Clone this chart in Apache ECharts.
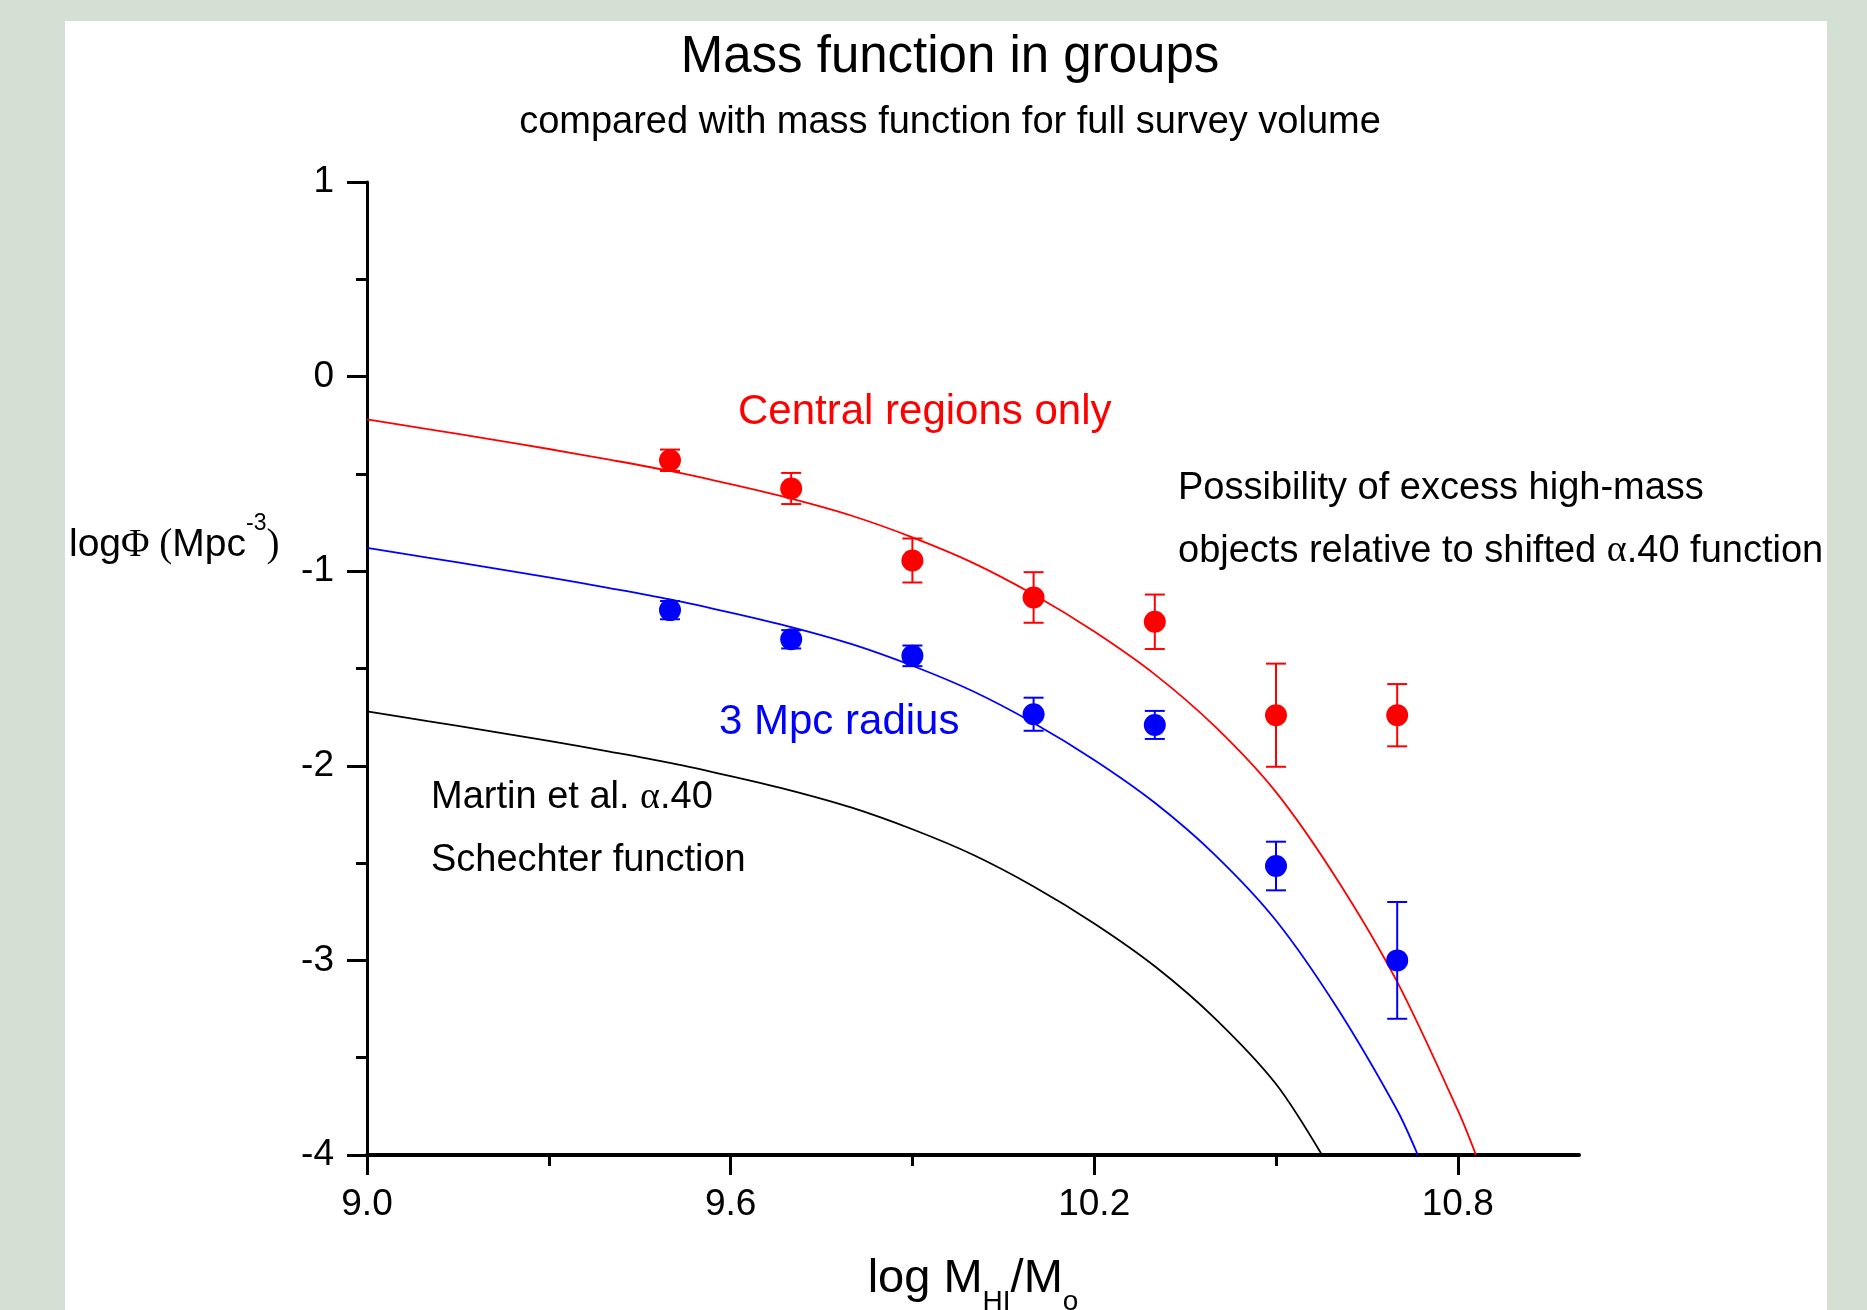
<!DOCTYPE html>
<html>
<head>
<meta charset="utf-8">
<script src="https://cdn.jsdelivr.net/npm/echarts@6/dist/echarts.min.js"></script>
<style>
html,body{margin:0;padding:0;background:#d5e0d5;}
#chart{width:1867px;height:1310px;}
</style>
</head>
<body>
<div id="chart"></div>
<script>
// ---------------- data ----------------
const titleText = 'Mass function in groups';
const subtitleText = 'compared with mass function for full survey volume';

const xTickMajor = [9.0, 9.6, 10.2, 10.8];
const xTickMinor = [9.3, 9.9, 10.5];

// binned points (log M_HI)
const binX = [9.5, 9.7, 9.9, 10.1, 10.3, 10.5, 10.7];

// "Central regions only" (red)
const centralY   = [-0.43, -0.575, -0.945, -1.135, -1.26, -1.74, -1.74];
const centralErr = [0.055, 0.08, 0.113, 0.13, 0.14, 0.265, 0.16];

// "3 Mpc radius" (blue)
const radiusY   = [-1.20, -1.35, -1.435, -1.735, -1.79, -2.515, -3.0];
const radiusErr = [0.047, 0.047, 0.053, 0.085, 0.072, 0.125, 0.3];

// shifted alpha.40 curve through central regions (red), read at 0.1 steps
const centralFitX = [9.0, 9.1, 9.2, 9.3, 9.4, 9.5, 9.6, 9.7, 9.8, 9.9, 10.0, 10.1, 10.2, 10.3, 10.4, 10.5, 10.6, 10.7, 10.8, 10.83];
const centralFitY = [-0.22, -0.27, -0.32, -0.372, -0.427, -0.485, -0.553, -0.627, -0.715, -0.826, -0.957, -1.12, -1.31, -1.53, -1.80, -2.135, -2.58, -3.11, -3.77, -4.0];

// shifted alpha.40 curve through 3 Mpc radius (blue)
const radiusFitX = [9.0, 9.1, 9.2, 9.3, 9.4, 9.5, 9.6, 9.7, 9.8, 9.9, 10.0, 10.1, 10.2, 10.3, 10.4, 10.5, 10.6, 10.7, 10.734];
const radiusFitY = [-0.88, -0.93, -0.98, -1.032, -1.087, -1.145, -1.213, -1.287, -1.375, -1.486, -1.617, -1.78, -1.97, -2.19, -2.46, -2.795, -3.24, -3.77, -4.0];

// Martin et al. alpha.40 Schechter function (black)
const martinX = [9.0, 9.1, 9.2, 9.3, 9.4, 9.5, 9.6, 9.7, 9.8, 9.9, 10.0, 10.1, 10.2, 10.3, 10.4, 10.5, 10.576];
const martinY = [-1.72, -1.77, -1.82, -1.872, -1.927, -1.985, -2.053, -2.127, -2.215, -2.326, -2.457, -2.62, -2.81, -3.03, -3.30, -3.635, -4.0];

// ---------------- build ----------------
const SANS = "'Liberation Sans', Arial, sans-serif";
const SERIF = "'Liberation Serif', 'Times New Roman', serif";
const RED = '#ff0000', BLUE = '#0000ff';

function zip(xs, ys) { return xs.map((x, i) => [x, ys[i]]); }
function zip3(xs, ys, es) { return xs.map((x, i) => [x, ys[i], es[i]]); }

function errorBarSeries(name, data, color) {
  return {
    name: name, type: 'custom', xAxisIndex: 0, yAxisIndex: 0, z: 3,
    data: data,
    renderItem: function (params, api) {
      const x = api.value(0), y = api.value(1), e = api.value(2);
      const top = api.coord([x, y + e]);
      const bot = api.coord([x, y - e]);
      const hw = 10;
      const st = { stroke: color, lineWidth: 2 };
      return {
        type: 'group',
        children: [
          { type: 'line', shape: { x1: top[0], y1: top[1], x2: bot[0], y2: bot[1] }, style: st },
          { type: 'line', shape: { x1: top[0] - hw, y1: top[1], x2: top[0] + hw, y2: top[1] }, style: st },
          { type: 'line', shape: { x1: bot[0] - hw, y1: bot[1], x2: bot[0] + hw, y2: bot[1] }, style: st }
        ]
      };
    }
  };
}

function curveSeries(name, data, color) {
  return {
    name: name, type: 'line', data: data, showSymbol: false, symbol: 'none',
    smooth: 0.3, z: 2,
    lineStyle: { color: color, width: 1.8 }, silent: true
  };
}

function pointSeries(name, data, color) {
  return {
    name: name, type: 'scatter', data: data, symbol: 'circle', symbolSize: 22, z: 4,
    itemStyle: { color: color, opacity: 1 }
  };
}

const chart = echarts.init(document.getElementById('chart'), null, { renderer: 'canvas' });

const option = {
  backgroundColor: '#d5e0d5',
  animation: false,
  title: {
    text: titleText,
    subtext: subtitleText,
    left: 945,
    textAlign: 'center',
    top: 27,
    padding: 5,
    itemGap: 21,
    textStyle: { fontFamily: SANS, fontSize: 51, fontWeight: 'normal', color: '#000', lineHeight: 51 },
    subtextStyle: { fontFamily: SANS, fontSize: 38, color: '#000', lineHeight: 38 }
  },
  grid: { left: 367, right: 288, top: 182, bottom: 155, containLabel: false, outerBoundsMode: 'none' },
  xAxis: [
    {
      type: 'value', min: 9, max: 11, position: 'bottom',
      name: '{m|log M}{b|HI}{m|/M}{b|o}',
      nameLocation: 'middle', nameGap: 101, nameMoveOverlap: false,
      nameTextStyle: {
        verticalAlign: 'top',
        rich: {
          m: { fontFamily: SANS, fontSize: 47, lineHeight: 47, color: '#000', verticalAlign: 'top' },
          b: { fontFamily: SANS, fontSize: 28, lineHeight: 28, color: '#000', verticalAlign: 'top', padding: [32, 0, 0, 0] }
        }
      },
      axisLine: { show: true, onZero: false, lineStyle: { color: '#000', width: 4 } },
      axisTick: { show: true, customValues: xTickMajor, length: 20, lineStyle: { color: '#000', width: 3 } },
      axisLabel: {
        show: true, customValues: xTickMajor, margin: 31,
        fontFamily: SANS, fontSize: 37, color: '#000',
        formatter: v => Number(v).toFixed(1)
      },
      splitLine: { show: false }
    },
    {
      type: 'value', min: 9, max: 11, position: 'bottom',
      axisLine: { show: false, onZero: false },
      axisTick: { show: true, customValues: xTickMinor, length: 11, lineStyle: { color: '#000', width: 3 } },
      axisLabel: { show: false },
      splitLine: { show: false }
    }
  ],
  yAxis: {
    type: 'value', min: -4, max: 1, interval: 1,
    axisLine: { show: true, onZero: false, lineStyle: { color: '#000', width: 3 } },
    axisTick: { show: true, length: 20, lineStyle: { color: '#000', width: 3 } },
    minorTick: { show: true, splitNumber: 2, length: 11, lineStyle: { color: '#000', width: 3 } },
    axisLabel: { margin: 33, fontFamily: SANS, fontSize: 37, color: '#000' },
    splitLine: { show: false },
    minorSplitLine: { show: false }
  },
  series: [
    curveSeries('Martin et al. α.40 Schechter function', zip(martinX, martinY), '#000'),
    curveSeries('3 Mpc radius fit', zip(radiusFitX, radiusFitY), BLUE),
    curveSeries('Central regions fit', zip(centralFitX, centralFitY), RED),
    errorBarSeries('3 Mpc radius errors', zip3(binX, radiusY, radiusErr), BLUE),
    errorBarSeries('Central regions errors', zip3(binX, centralY, centralErr), RED),
    pointSeries('3 Mpc radius', zip(binX, radiusY), BLUE),
    pointSeries('Central regions only', zip(binX, centralY), RED)
  ],
  graphic: [
    { type: 'rect', z: -10, silent: true, shape: { x: 65, y: 21, width: 1762, height: 1300 }, style: { fill: '#ffffff' } },
    {
      type: 'text', x: 69, y: 512, silent: true,
      style: {
        text: '{s|log}{g|Φ}{g| (}{s|Mpc}{p|-3}{g|)}',
        verticalAlign: 'top', textVerticalAlign: 'top', align: 'left', textAlign: 'left',
        rich: {
          s: { fontFamily: SANS, fontSize: 39, lineHeight: 39, fill: '#000', verticalAlign: 'top', padding: [14, 0, 0, 0] },
          g: { fontFamily: SERIF, fontSize: 39, lineHeight: 39, fill: '#000', verticalAlign: 'top', padding: [14, 0, 0, 0] },
          p: { fontFamily: SANS, fontSize: 23, lineHeight: 23, fill: '#000', verticalAlign: 'top' }
        }
      }
    },
    {
      type: 'text', x: 738, y: 412.5, silent: true,
      style: { text: 'Central regions only', fill: RED, fontFamily: SANS, fontSize: 42,
               verticalAlign: 'middle', textVerticalAlign: 'middle' }
    },
    {
      type: 'text', x: 719, y: 722, silent: true,
      style: { text: '3 Mpc radius', fill: BLUE, fontFamily: SANS, fontSize: 42,
               verticalAlign: 'middle', textVerticalAlign: 'middle' }
    },
    {
      type: 'text', x: 1178, y: 488.5, silent: true,
      style: { text: 'Possibility of excess high-mass', fill: '#000', fontFamily: SANS, fontSize: 38,
               verticalAlign: 'middle', textVerticalAlign: 'middle' }
    },
    {
      type: 'text', x: 1178, y: 551.5, silent: true,
      style: { text: '{n|objects relative to shifted }{a|α}{n|.40 function}',
               verticalAlign: 'middle', textVerticalAlign: 'middle',
               rich: { n: { fontFamily: SANS, fontSize: 38, fill: '#000' },
                       a: { fontFamily: SERIF, fontSize: 38, fill: '#000' } } }
    },
    {
      type: 'text', x: 431, y: 798, silent: true,
      style: { text: '{n|Martin et al. }{a|α}{n|.40}',
               verticalAlign: 'middle', textVerticalAlign: 'middle',
               rich: { n: { fontFamily: SANS, fontSize: 38, fill: '#000' },
                       a: { fontFamily: SERIF, fontSize: 38, fill: '#000' } } }
    },
    {
      type: 'text', x: 431, y: 861, silent: true,
      style: { text: 'Schechter function', fill: '#000', fontFamily: SANS, fontSize: 38,
               verticalAlign: 'middle', textVerticalAlign: 'middle' }
    }
  ]
};

chart.setOption(option);
</script>
</body>
</html>
